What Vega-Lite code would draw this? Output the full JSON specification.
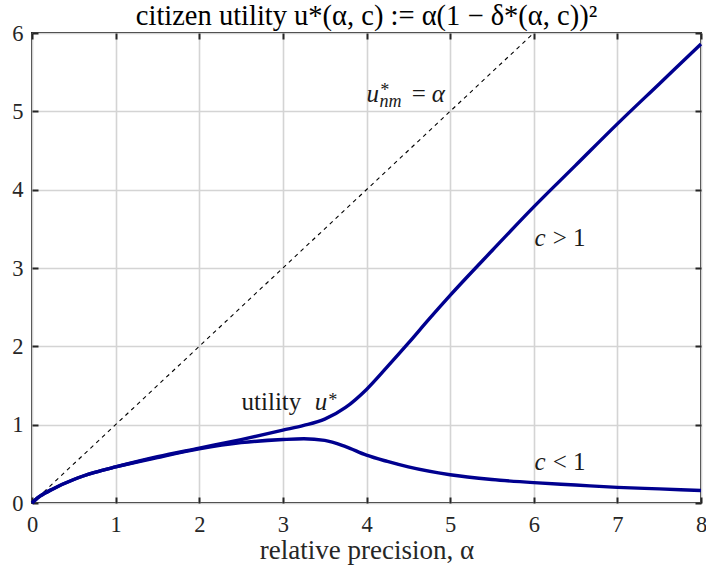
{
  "$schema": "https://vega.github.io/schema/vega-lite/v6.json",
  "width": 669,
  "height": 470,
  "autosize": {"type": "none"},
  "padding": {"left": 32, "top": 33, "right": 5, "bottom": 67},
  "background": "white",
  "config": {
    "view": {"stroke": "#262626", "strokeWidth": 2},
    "font": "Liberation Serif",
    "axis": {"labelFont": "Liberation Serif", "titleFont": "Liberation Serif", "labelColor": "#262626", "titleColor": "#262626", "titleFontWeight": "normal", "labelFlush": false}
  },
  "title": {"text": "citizen utility u*(α, c) := α(1 − δ*(α, c))²", "font": "Liberation Serif", "fontSize": 28.5, "fontWeight": "normal", "color": "#000000", "anchor": "middle", "offset": 3, "dy": 11},
  "datasets": {
    "curves": [
      {"a": 0, "u": 0, "c": "c>1"}, {"a": 0.05, "u": 0.05, "c": "c>1"}, {"a": 0.1, "u": 0.09, "c": "c>1"}, {"a": 0.25, "u": 0.18, "c": "c>1"}, {"a": 0.5, "u": 0.3, "c": "c>1"}, {"a": 0.75, "u": 0.39, "c": "c>1"}, {"a": 1, "u": 0.46, "c": "c>1"}, {"a": 1.5, "u": 0.59, "c": "c>1"}, {"a": 2, "u": 0.7, "c": "c>1"}, {"a": 2.5, "u": 0.81, "c": "c>1"}, {"a": 3, "u": 0.93, "c": "c>1"}, {"a": 3.25, "u": 0.99, "c": "c>1"}, {"a": 3.5, "u": 1.07, "c": "c>1"}, {"a": 3.75, "u": 1.22, "c": "c>1"}, {"a": 4, "u": 1.45, "c": "c>1"}, {"a": 4.25, "u": 1.74, "c": "c>1"}, {"a": 4.5, "u": 2.04, "c": "c>1"}, {"a": 4.75, "u": 2.35, "c": "c>1"}, {"a": 5, "u": 2.65, "c": "c>1"}, {"a": 5.5, "u": 3.22, "c": "c>1"}, {"a": 6, "u": 3.78, "c": "c>1"}, {"a": 6.5, "u": 4.31, "c": "c>1"}, {"a": 7, "u": 4.84, "c": "c>1"}, {"a": 7.5, "u": 5.35, "c": "c>1"}, {"a": 8, "u": 5.86, "c": "c>1"},
      {"a": 0, "u": 0, "c": "c<1"}, {"a": 0.05, "u": 0.05, "c": "c<1"}, {"a": 0.1, "u": 0.09, "c": "c<1"}, {"a": 0.25, "u": 0.18, "c": "c<1"}, {"a": 0.5, "u": 0.3, "c": "c<1"}, {"a": 0.75, "u": 0.39, "c": "c<1"}, {"a": 1, "u": 0.46, "c": "c<1"}, {"a": 1.5, "u": 0.58, "c": "c<1"}, {"a": 2, "u": 0.69, "c": "c<1"}, {"a": 2.5, "u": 0.77, "c": "c<1"}, {"a": 3, "u": 0.81, "c": "c<1"}, {"a": 3.25, "u": 0.82, "c": "c<1"}, {"a": 3.5, "u": 0.8, "c": "c<1"}, {"a": 3.75, "u": 0.72, "c": "c<1"}, {"a": 4, "u": 0.61, "c": "c<1"}, {"a": 4.25, "u": 0.53, "c": "c<1"}, {"a": 4.5, "u": 0.46, "c": "c<1"}, {"a": 5, "u": 0.36, "c": "c<1"}, {"a": 5.5, "u": 0.3, "c": "c<1"}, {"a": 6, "u": 0.26, "c": "c<1"}, {"a": 6.5, "u": 0.23, "c": "c<1"}, {"a": 7, "u": 0.2, "c": "c<1"}, {"a": 7.5, "u": 0.18, "c": "c<1"}, {"a": 8, "u": 0.16, "c": "c<1"}
    ],
    "diag": [{"a": 0, "u": 0}, {"a": 6, "u": 6}],
    "upright": [
      {"a": 2.506, "u": 1.184, "t": "utility"},
      {"a": 4.54, "u": 5.12, "t": "="},
      {"a": 6.226, "u": 3.275, "t": "> 1"},
      {"a": 6.226, "u": 0.418, "t": "< 1"}
    ],
    "italic": [
      {"a": 3.38, "u": 1.184, "t": "u"},
      {"a": 4.0, "u": 5.12, "t": "u"},
      {"a": 4.78, "u": 5.12, "t": "α"},
      {"a": 6.01, "u": 3.275, "t": "c"},
      {"a": 6.01, "u": 0.418, "t": "c"}
    ],
    "small": [
      {"a": 3.534, "u": 1.236, "t": "*"},
      {"a": 4.156, "u": 5.2, "t": "*"},
      {"a": 4.156, "u": 5.05, "t": "nm"}
    ]
  },
  "layer": [
    {
      "data": {"name": "diag"},
      "mark": {"type": "line", "color": "#000000", "strokeWidth": 1.1, "strokeDash": [4, 4]},
      "encoding": {
        "x": {"field": "a", "type": "quantitative", "scale": {"domain": [0, 8], "nice": false},
          "axis": {"orient": "bottom", "values": [0, 1, 2, 3, 4, 5, 6, 7, 8], "grid": true, "gridColor": "#d4d4d4", "gridWidth": 1.6, "domain": false, "tickSize": -6, "tickWidth": 2, "tickColor": "#262626", "labelFontSize": 22.5, "labelPadding": 16, "title": "relative precision, α", "titleFontSize": 27, "titlePadding": 2}},
        "y": {"field": "u", "type": "quantitative", "scale": {"domain": [0, 6], "nice": false},
          "axis": {"orient": "left", "values": [0, 1, 2, 3, 4, 5, 6], "grid": true, "gridColor": "#d4d4d4", "gridWidth": 1.6, "domain": false, "tickSize": -6, "tickWidth": 2, "tickColor": "#262626", "labelFontSize": 22.5, "labelPadding": 15, "title": null}}
      }
    },
    {
      "data": {"name": "curves"},
      "mark": {"type": "line", "color": "#00008f", "strokeWidth": 3.4, "interpolate": "monotone"},
      "encoding": {
        "x": {"field": "a", "type": "quantitative", "axis": {"orient": "top", "values": [0, 1, 2, 3, 4, 5, 6, 7, 8], "labels": false, "grid": false, "domain": false, "tickSize": -6, "tickWidth": 2, "tickColor": "#262626", "title": null}},
        "y": {"field": "u", "type": "quantitative", "axis": {"orient": "right", "values": [0, 1, 2, 3, 4, 5, 6], "labels": false, "grid": false, "domain": false, "tickSize": -6, "tickWidth": 2, "tickColor": "#262626", "title": null}},
        "detail": {"field": "c"}
      }
    },
    {
      "data": {"name": "upright"},
      "mark": {"type": "text", "align": "left", "baseline": "alphabetic", "font": "Liberation Serif", "fontSize": 25, "color": "#1a1a1a"},
      "encoding": {
        "x": {"field": "a", "type": "quantitative", "axis": null},
        "y": {"field": "u", "type": "quantitative", "axis": null},
        "text": {"field": "t"}
      }
    },
    {
      "data": {"name": "italic"},
      "mark": {"type": "text", "align": "left", "baseline": "alphabetic", "font": "Liberation Serif", "fontStyle": "italic", "fontSize": 25, "color": "#1a1a1a"},
      "encoding": {
        "x": {"field": "a", "type": "quantitative", "axis": null},
        "y": {"field": "u", "type": "quantitative", "axis": null},
        "text": {"field": "t"}
      }
    },
    {
      "data": {"name": "small"},
      "mark": {"type": "text", "align": "left", "baseline": "alphabetic", "font": "Liberation Serif", "fontStyle": "italic", "fontSize": 18, "color": "#1a1a1a"},
      "encoding": {
        "x": {"field": "a", "type": "quantitative", "axis": null},
        "y": {"field": "u", "type": "quantitative", "axis": null},
        "text": {"field": "t"}
      }
    }
  ],
  "resolve": {"axis": {"x": "independent", "y": "independent"}}
}
